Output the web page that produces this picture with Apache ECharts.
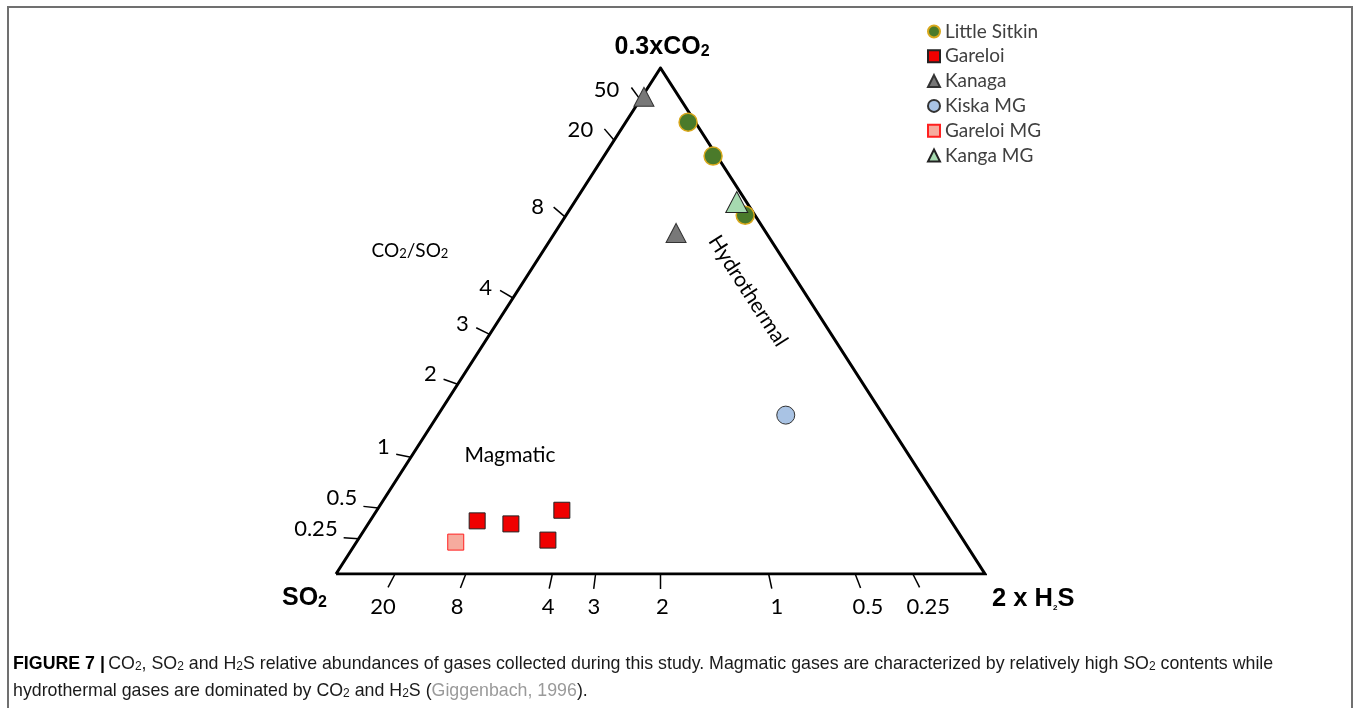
<!DOCTYPE html>
<html><head><meta charset="utf-8">
<script src="https://cdn.jsdelivr.net/npm/echarts@6/dist/echarts.min.js"></script>
<style>html,body{margin:0;padding:0;background:#fff;} #c{width:1354px;height:708px;}</style>
</head><body><div id="c"></div>
<script>
// Series names (legend order)
const seriesNames = ['Little Sitkin', 'Gareloi', 'Kanaga', 'Kiska MG', 'Gareloi MG', 'Kanga MG'];
// Compositions in % : [0.3xCO2, SO2, 2xH2S]
const littleSitkin = [[89.3, 1.1, 9.6], [82.6, 0.6, 16.8], [70.9, 1.5, 27.6]];
const gareloi = [[10.5, 73.0, 16.5], [9.9, 68.1, 22.0], [6.7, 64.0, 29.3], [12.6, 58.9, 28.5]];
const kanaga = [[94.3, 5.4, 0.3], [67.4, 13.9, 18.7]];
const kiskaMG = [[31.4, 15.0, 53.6]];
const gareloiMG = [[6.3, 78.4, 15.3]];
const kangaMG = [[73.5, 1.5, 25.0]];
// Ratio tick labels
const co2so2Ticks = [50, 20, 8, 4, 3, 2, 1, 0.5, 0.25];   // CO2/SO2 on left edge
const so2h2sTicks = [20, 8, 4, 3, 2, 1, 0.5, 0.25];       // SO2/H2S on bottom edge

// ternary -> cartesian (x in [0,1], y in [0,1])
function tern(p) {
  const s = p[0] + p[1] + p[2];
  const a = p[0] / s, c = p[2] / s;
  return [c + a / 2, a];
}
const vTop = tern([100, 0, 0]), vLeft = tern([0, 100, 0]), vRight = tern([0, 0, 100]);

const tickData = [];
co2so2Ticks.forEach(r => {
  const pt = tern([0.3 * r, 1, 0]);   // CO2/SO2 = r
  tickData.push([pt[0], pt[1], vRight[0], vRight[1], r, 0]);
});
so2h2sTicks.forEach(r => {
  const pt = tern([0, r, 2]);         // SO2/H2S = r
  tickData.push([pt[0], pt[1], vTop[0], vTop[1], r, 1]);
});

const chart = echarts.init(document.getElementById('c'), null, {renderer: 'canvas'});
const LATO = 'Lato';
const ARIAL = 'Liberation Sans';

function scatter(name, data, symbol, size, color, border, bw) {
  return {
    name, type: 'scatter', data: data.map(tern), symbol, symbolSize: size,
    itemStyle: {color, borderColor: border, borderWidth: bw, opacity: 1},
    emphasis: {disabled: true}, z: 5
  };
}

const capMain = {fontFamily: ARIAL, fontSize: 17.8, lineHeight: 26, verticalAlign: 'bottom', fill: '#1a1a1a'};
const capSub = {fontFamily: ARIAL, fontSize: 12, lineHeight: 12, verticalAlign: 'bottom', fill: '#1a1a1a'};

const option = {
  animation: false,
  backgroundColor: '#fff',
  grid: {left: 336, top: 68, width: 649, height: 506, containLabel: false},
  xAxis: {type: 'value', min: 0, max: 1, show: false},
  yAxis: {type: 'value', min: 0, max: 1, show: false},
  legend: {
    data: seriesNames, orient: 'vertical', left: 922, top: 17,
    itemWidth: 12, itemHeight: 12, itemGap: 5.8, itemTextGap: 7,
    textStyle: {fontFamily: LATO, fontSize: 19, color: '#404040', lineHeight: 17},
    selectedMode: false
  },
  series: [
    {type: 'line', data: [vLeft, vTop, vRight, vLeft], symbol: 'none', silent: true,
     lineStyle: {color: '#000', width: 3, join: 'miter'}, z: 2},
    {type: 'custom', silent: true, clip: false, z: 3, data: tickData,
     renderItem: function (params, api) {
       const p = api.coord([api.value(0), api.value(1)]);
       const v = api.coord([api.value(2), api.value(3)]);
       let dx = p[0] - v[0], dy = p[1] - v[1];
       const L = Math.hypot(dx, dy); dx /= L; dy /= L;
       const len = 15;
       const side = api.value(5);
       const lab = String(api.value(4));
       let tx, ty, align;
       if (side === 0) { tx = p[0] - 21; ty = p[1] - 10; align = 'right'; }
       else { tx = p[0] + dx * 30 + 2; ty = p[1] + 33; align = 'center'; }
       return {type: 'group', children: [
         {type: 'line', shape: {x1: p[0], y1: p[1], x2: p[0] + dx * len, y2: p[1] + dy * len},
          style: {stroke: '#000', lineWidth: 1.5}},
         {type: 'text', x: tx, y: ty,
          style: {text: lab, align: align, verticalAlign: 'middle', fontFamily: LATO, fontSize: 22, fill: '#000'}}
       ]};
     }},
    scatter('Little Sitkin', littleSitkin, 'circle', 18, '#4a7a2a', '#d9a81c', 1.5),
    scatter('Gareloi', gareloi, 'rect', 16, '#f00000', '#222', 1),
    scatter('Kanaga', kanaga, 'triangle', [20, 19], '#787878', '#333', 1),
    scatter('Kiska MG', kiskaMG, 'circle', 18, '#a9c3e4', '#333', 1),
    scatter('Gareloi MG', gareloiMG, 'rect', 16, '#f6ab9e', '#ff2020', 1),
    scatter('Kanga MG', kangaMG, 'triangle', [22, 21], '#a6dab0', '#222', 1)
  ],
  graphic: [
    {type: 'polyline', shape: {points: [[8, 720], [8, 7], [1352, 7], [1352, 720]]},
     style: {stroke: '#707070', lineWidth: 2, fill: null}, silent: true},
    {type: 'text', x: 662, y: 44, style: {
      text: '{t|0.3xCO}{s|2}', align: 'center', verticalAlign: 'middle',
      rich: {t: {fontFamily: ARIAL, fontWeight: 'bold', fontSize: 25, lineHeight: 32, verticalAlign: 'bottom', fill: '#000'},
             s: {fontFamily: ARIAL, fontWeight: 'bold', fontSize: 16, lineHeight: 13, verticalAlign: 'bottom', fill: '#000'}}}},
    {type: 'text', x: 282, y: 595, style: {
      text: '{t|SO}{s|2}', align: 'left', verticalAlign: 'middle',
      rich: {t: {fontFamily: ARIAL, fontWeight: 'bold', fontSize: 25, lineHeight: 32, verticalAlign: 'bottom', fill: '#000'},
             s: {fontFamily: ARIAL, fontWeight: 'bold', fontSize: 16, lineHeight: 13, verticalAlign: 'bottom', fill: '#000'}}}},
    {type: 'text', x: 992, y: 598, style: {
      text: '{t|2 x H}{s|2}{t|S}', align: 'left', verticalAlign: 'middle',
      rich: {t: {fontFamily: ARIAL, fontWeight: 'bold', fontSize: 25.5, lineHeight: 28, verticalAlign: 'bottom', fill: '#000'},
             s: {fontFamily: ARIAL, fontWeight: 'bold', fontSize: 8, lineHeight: 10, verticalAlign: 'bottom', fill: '#000'}}}},
    {type: 'text', x: 410, y: 248, style: {
      text: '{t|CO}{s|2}{t|/SO}{s|2}', align: 'center', verticalAlign: 'middle',
      rich: {t: {fontFamily: LATO, fontSize: 19, lineHeight: 24, verticalAlign: 'bottom', fill: '#000'},
             s: {fontFamily: LATO, fontSize: 13, lineHeight: 12, verticalAlign: 'bottom', fill: '#000'}}}},
    {type: 'text', x: 510, y: 455, style: {
      text: 'Magmatic', align: 'center', verticalAlign: 'middle', fontFamily: LATO, fontSize: 21, fill: '#000'}},
    {type: 'text', x: 748, y: 291, rotation: -57.1 * Math.PI / 180, style: {
      text: 'Hydrothermal', align: 'center', verticalAlign: 'middle', fontFamily: LATO, fontSize: 21, fill: '#000'}},
    {type: 'text', x: 13, y: 660, style: {
      text: '{b|FIGURE 7 |} {n|CO}{s|2}{n|, SO}{s|2}{n| and H}{s|2}{n|S relative abundances of gases collected during this study. Magmatic gases are characterized by relatively high SO}{s|2}{n| contents while}',
      align: 'left', verticalAlign: 'middle',
      rich: {b: Object.assign({}, capMain, {fontWeight: 'bold', fill: '#000'}), n: capMain, s: capSub}}},
    {type: 'text', x: 13, y: 687, style: {
      text: '{n|hydrothermal gases are dominated by CO}{s|2}{n| and H}{s|2}{n|S (}{g|Giggenbach, 1996}{n|).}',
      align: 'left', verticalAlign: 'middle',
      rich: {n: capMain, g: Object.assign({}, capMain, {fill: '#9a9a9a'}), s: capSub}}}
  ]
};
chart.setOption(option);
</script>
</body></html>
